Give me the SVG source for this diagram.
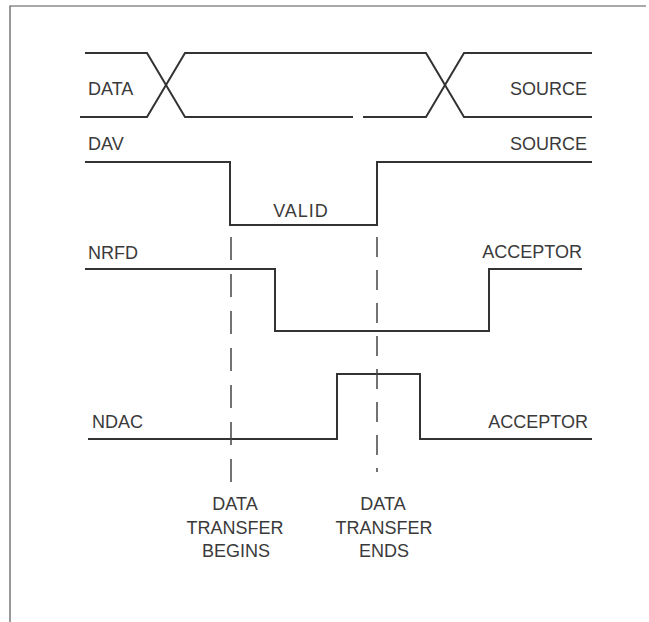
<svg xmlns="http://www.w3.org/2000/svg" width="649" height="622" viewBox="0 0 649 622">
<style>
.bg{fill:#ffffff}
.frame{fill:none;stroke:#555;stroke-width:1.2}
.sig{fill:none;stroke:#333;stroke-width:2;stroke-linejoin:miter}
.dash1{fill:none;stroke:#444;stroke-width:1.5;stroke-dasharray:23 14}
.dash2{fill:none;stroke:#444;stroke-width:1.5;stroke-dasharray:20 13}
.t{font-family:"Liberation Sans",Arial,sans-serif;font-size:18px;fill:#3a3a3a}
.e{text-anchor:end}
.m{text-anchor:middle}
</style>
<rect class="bg" x="0" y="0" width="649" height="622"/>
<g id="frame">
<path class="frame" d="M10,622 V6 H646"/>
</g>
<g id="data">
<path class="sig" d="M85,53 H147 L185,117 H353 M363,117 H426 L464,53 H592"/>
<path class="sig" d="M80,117 H147 L185,53 H426 L464,117 H592"/>
<text class="t" x="88" y="95">DATA</text>
<text class="t e" x="587" y="95">SOURCE</text>
</g>
<g id="dav">
<path class="sig" d="M85,162 H230 V225 H377 V162 H592"/>
<text class="t" x="88" y="150">DAV</text>
<text class="t e" x="587" y="150">SOURCE</text>
<text class="t m" x="301" y="217" letter-spacing="1">VALID</text>
</g>
<g id="nrfd">
<path class="sig" d="M85,269 H275 V331 H489 V269 H582"/>
<text class="t" x="88" y="259">NRFD</text>
<text class="t e" x="582" y="258">ACCEPTOR</text>
</g>
<g id="ndac">
<path class="sig" d="M88,439 H337 V374 H420 V439 H592"/>
<text class="t" x="92" y="428">NDAC</text>
<text class="t e" x="588" y="428">ACCEPTOR</text>
</g>
<g id="connectors">
<line class="dash1" x1="231" y1="237" x2="231" y2="488"/>
<line class="dash2" x1="377" y1="237" x2="377" y2="472"/>
</g>
<g id="begins">
<text class="t m" x="235" y="510">DATA</text>
<text class="t m" x="235" y="534">TRANSFER</text>
<text class="t m" x="236" y="557">BEGINS</text>
</g>
<g id="ends">
<text class="t m" x="383" y="510">DATA</text>
<text class="t m" x="384" y="534">TRANSFER</text>
<text class="t m" x="384" y="557">ENDS</text>
</g>
</svg>
